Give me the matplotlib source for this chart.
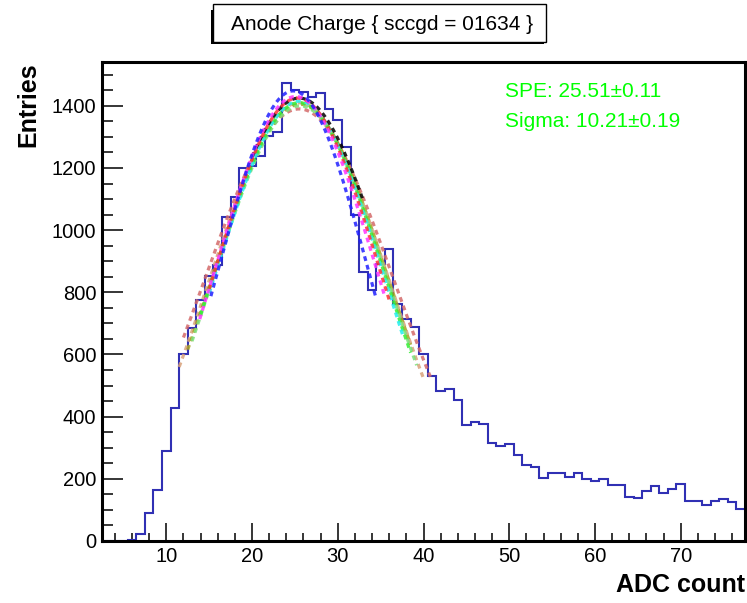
import numpy as np
import matplotlib
matplotlib.use("Agg")
from matplotlib import pyplot as plt
from matplotlib.patches import Rectangle

plt.rcParams['font.family'] = ['Liberation Sans', 'DejaVu Sans']

# histogram: 1-ADC bins centred on integers 3..77
bin_centers = list(range(3, 78))
entries = [0, 0, 0, 4, 22, 89, 163, 288, 428, 600,
           686, 774, 854, 887, 1041, 1107, 1200, 1207, 1239, 1303,
           1317, 1472, 1450, 1445, 1430, 1440, 1390, 1355, 1268, 1048,
           866, 809, 890, 941, 764, 713, 687, 600, 532, 483,
           490, 455, 372, 383, 377, 314, 307, 311, 277, 246,
           238, 204, 219, 219, 207, 219, 199, 193, 198, 179,
           179, 140, 138, 160, 178, 154, 168, 182, 128, 128,
           117, 128, 135, 124, 103]

# gaussian fits: amplitude, mean, sigma, fit range
fit_colors = ['#d46a6a', '#d9a27a', '#a6a020', '#7be07b', '#33ee33',
              '#22eeee', 'black', '#ff3030', '#ff33ff', '#2020ff']
fit_amp = [1390, 1410, 1405, 1400, 1410, 1415, 1425, 1425, 1430, 1448]
fit_mean = [25.5, 25.5, 25.6, 25.6, 25.5, 25.5, 25.5, 25.3, 25.1, 24.8]
fit_sigma = [11.0, 10.3, 10.2, 10.1, 10.0, 9.8, 10.3, 9.7, 9.5, 8.7]
fit_lo = [12.0, 11.5, 12.5, 13.0, 14.0, 15.0, 20.0, 15.0, 13.9, 15.2]
fit_hi = [40.8, 40.0, 38.5, 39.2, 38.5, 37.6, 33.0, 36.0, 35.5, 34.4]

spe_text = 'SPE: 25.51\u00b10.11'
sigma_text = 'Sigma: 10.21\u00b10.19'
title = 'Anode Charge { sccgd = 01634 }'

W, H = 747, 603
fig = plt.figure(figsize=(W / 100, H / 100), dpi=100)
ax = fig.add_axes([102 / W, 1 - 541 / H, (745 - 102) / W, (541 - 62) / H])

edges = np.array(bin_centers + [bin_centers[-1] + 1]) - 0.5
ax.stairs(entries, edges, baseline=None, color='#3030b4', lw=1.5, zorder=2)

for c, a, m, s, lo, hi in zip(fit_colors, fit_amp, fit_mean, fit_sigma, fit_lo, fit_hi):
    xx = np.linspace(lo, hi, 200)
    ax.plot(xx, a * np.exp(-0.5 * ((xx - m) / s) ** 2), color=c, lw=2.3,
            dashes=(1.5, 1.3), alpha=0.85, zorder=3)

ax.set_xlim(2.5, 77.5)
ax.set_ylim(0, 1541)
ax.set_xticks(range(10, 80, 10))
ax.set_xticks(range(4, 78, 2), minor=True)
ax.set_yticks(range(0, 1401, 200))
ax.set_yticks(range(0, 1541, 50), minor=True)
ax.tick_params(axis='both', which='both', direction='in', top=False, right=False,
               width=1.1, labelsize=14.5)
ax.tick_params(axis='x', which='major', length=13, pad=4.5)
ax.tick_params(axis='x', which='minor', length=6)
ax.tick_params(axis='y', which='major', length=15, pad=4)
ax.tick_params(axis='y', which='minor', length=8)
for sp in ax.spines.values():
    sp.set_linewidth(2.2)

fig.text(505 / W, 1 - 97 / H, spe_text, color='#00ff00', fontsize=15, va='baseline')
fig.text(505 / W, 1 - 127 / H, sigma_text, color='#00ff00', fontsize=15, va='baseline')

fig.text(28 / W, 1 - 62 / H, 'Entries', rotation=90, ha='center', va='top',
         fontsize=18, weight='bold')
fig.text(745 / W, 1 - 585 / H, 'ADC count', ha='right', va='center',
         fontsize=18, weight='bold')

# title box with shadow
fig.patches.append(Rectangle((211 / W, 1 - 44 / H), 333 / W, 34 / H,
                             transform=fig.transFigure, facecolor='black',
                             edgecolor='none', zorder=1))
fig.patches.append(Rectangle((213 / W, 1 - 42 / H), 333 / W, 38 / H,
                             transform=fig.transFigure, facecolor='white',
                             edgecolor='black', lw=1, zorder=2))
fig.text(382 / W, 1 - 24 / H, title, ha='center', va='center', fontsize=15, zorder=3)

fig.savefig('out.png', dpi=100)
